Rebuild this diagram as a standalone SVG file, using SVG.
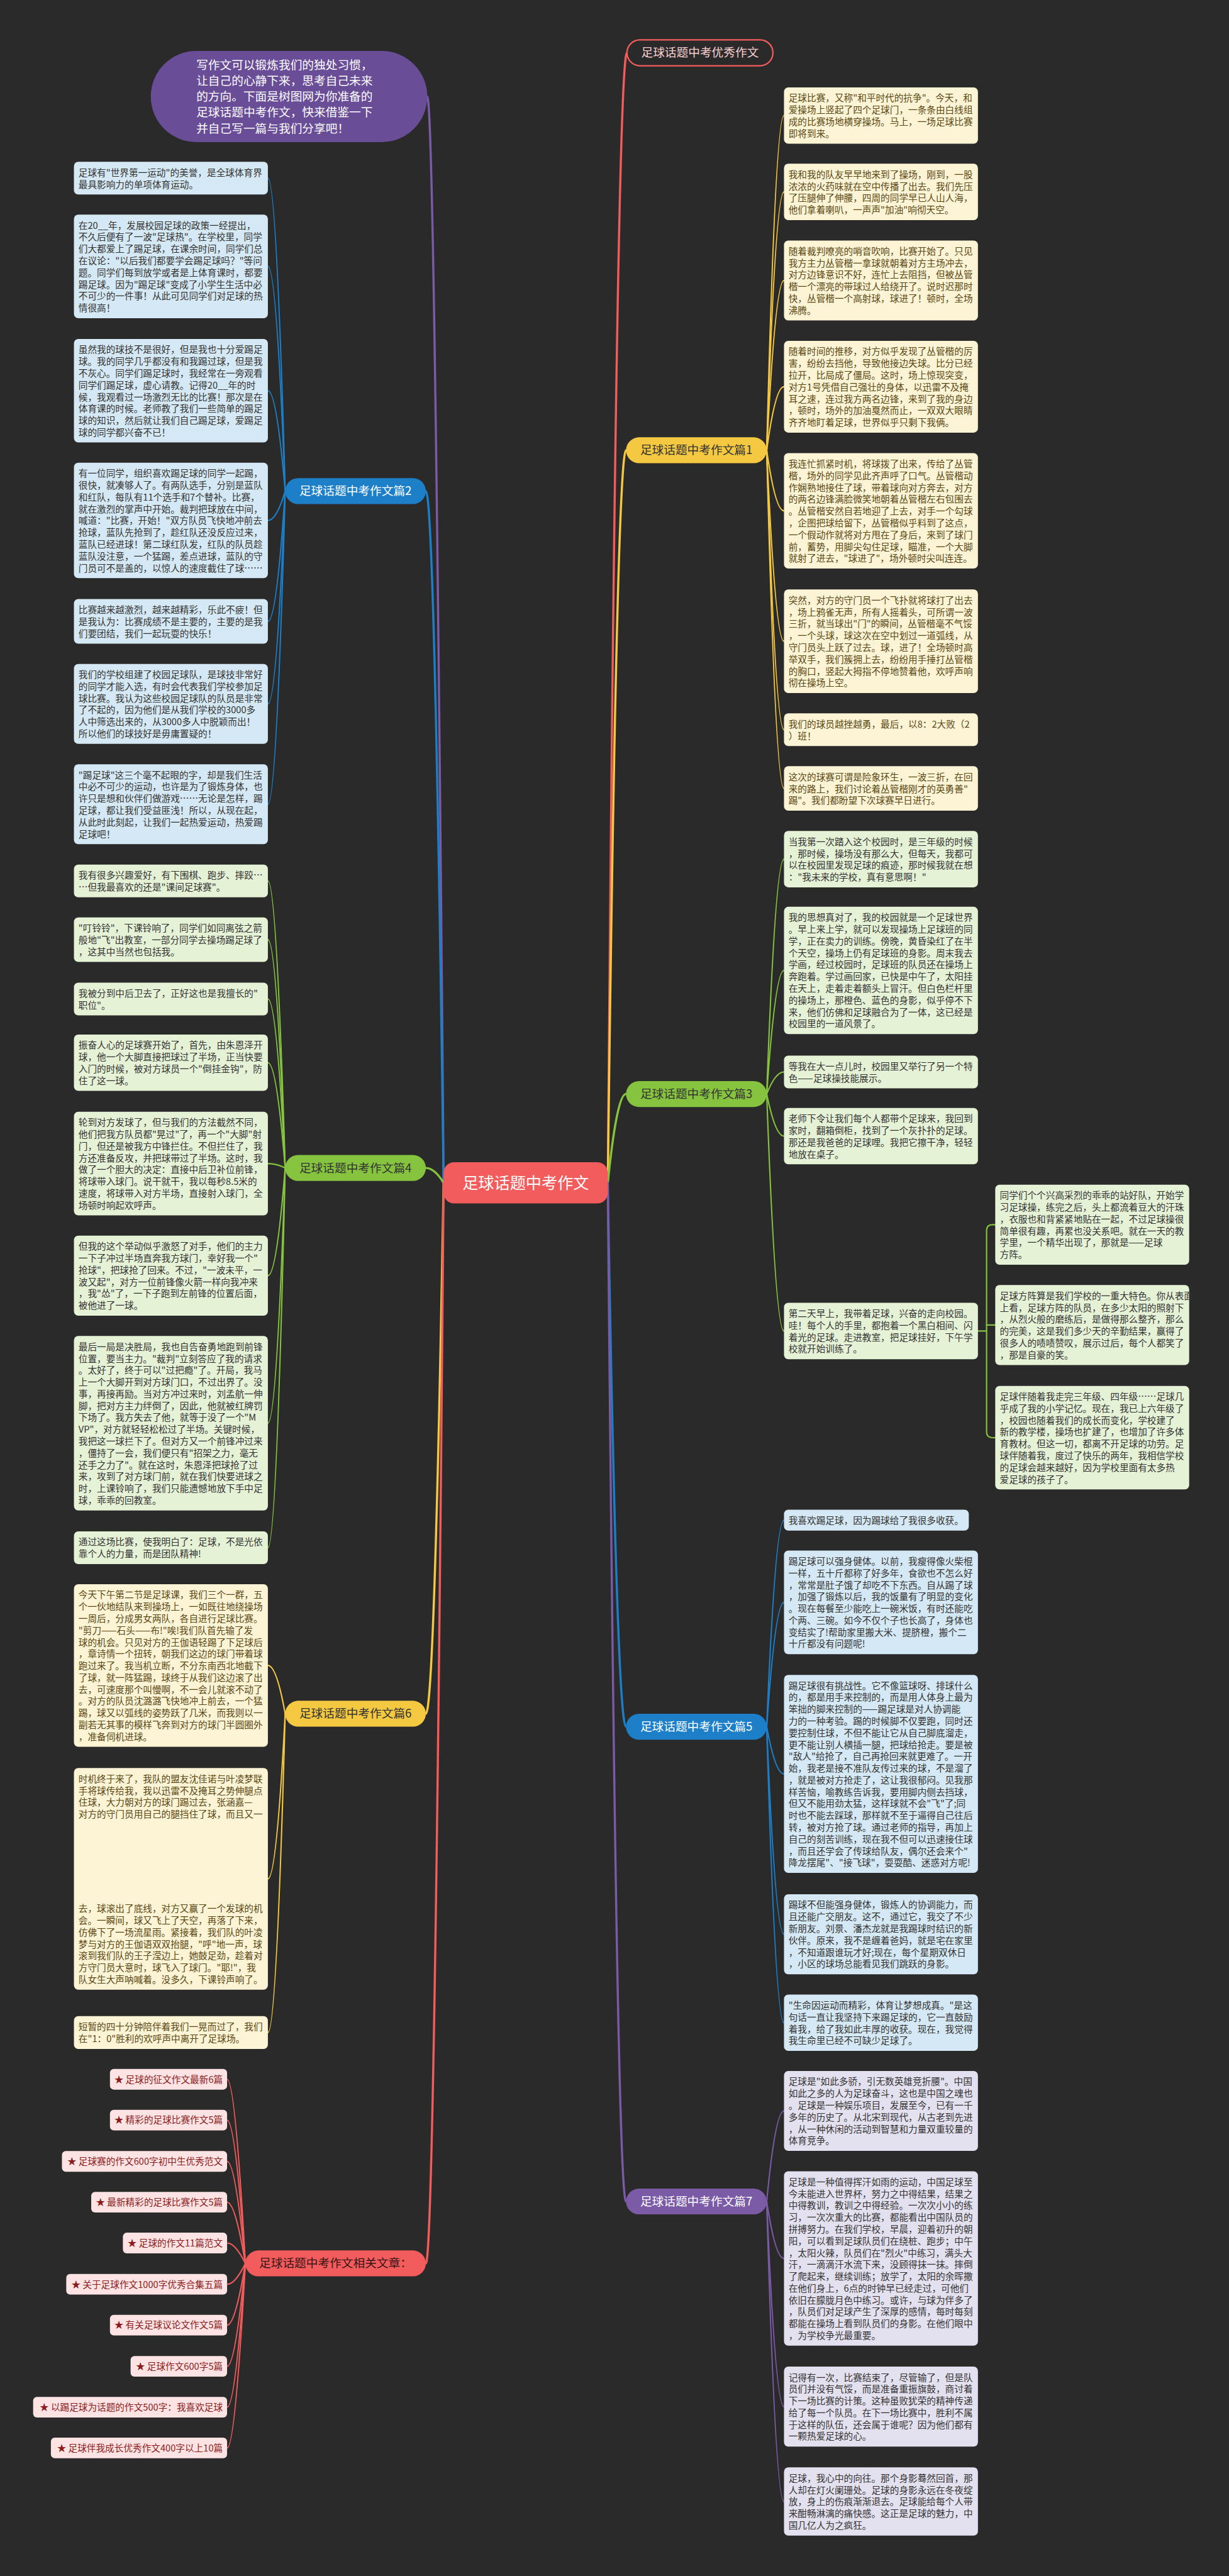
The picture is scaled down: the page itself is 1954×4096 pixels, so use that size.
<svg xmlns="http://www.w3.org/2000/svg" width="1954" height="4096" viewBox="0 0 1954 4096">
<style>
.t{font-family:"Noto Sans CJK SC","Noto Sans",sans-serif;font-size:19.2px}
.tl{font-family:"Noto Sans CJK SC","Noto Sans",sans-serif;font-size:24.5px;text-anchor:middle}
.tb{fill:#333}
.ty{fill:#5a4712}
.bb{fill:#d5e8f5}
.bg{fill:#e6f2d6}
.by{fill:#fdf4d6}
.bp{fill:#e3e0ef}
.lk{fill:#fde3e3}
.lt{fill:#8b1c1c;text-anchor:end}
.c{fill:none;stroke-width:2.8;stroke-linecap:round}
.cm{fill:none;stroke-width:4.5;stroke-linecap:round}
.sb{stroke:#1d7fc8}.sg{stroke:#86c440}.sy{stroke:#f5c842}.sp{stroke:#7b5aa6}.sr{stroke:#f25c5c}
</style>
<rect width="1954" height="4096" fill="#2a2a2a"/>
<g transform="scale(0.7633)">
<g id="connectors">
<path class="cm sp" d="M924 2464 Q905 201 890 201"/>
<path class="cm sr" d="M1266 2464 Q1285 110 1306 110"/>
<path class="cm sy" d="M1266 2464 Q1285 938 1304 938"/>
<path class="cm sb" d="M924 2464 Q905 1023 887 1023"/>
<path class="cm sg" d="M1266 2464 Q1285 2279 1304 2279"/>
<path class="cm sg" d="M924 2464 Q905 2433 887 2433"/>
<path class="cm sb" d="M1266 2464 Q1285 3597 1304 3597"/>
<path class="cm sy" d="M924 2464 Q905 3570 887 3570"/>
<path class="cm sp" d="M1266 2464 Q1285 4586 1304 4586"/>
<path class="cm sr" d="M924 2464 Q905 4715 887 4715"/>
<g class="c sy">
<path d="M1597 938 Q1615 240.7 1633 240.7"/><path d="M1597 938 Q1615 399.7 1633 399.7"/><path d="M1597 938 Q1615 584.3 1633 584.3"/><path d="M1597 938 Q1615 805.6 1633 805.6"/><path d="M1597 938 Q1615 1064.2 1633 1064.2"/><path d="M1597 938 Q1615 1335.9 1633 1335.9"/><path d="M1597 938 Q1615 1520.1 1633 1520.1"/><path d="M1597 938 Q1615 1642.4 1633 1642.4"/>
</g>
<g class="c sg">
<path d="M1597 2279 Q1615 1789.7 1633 1789.7"/><path d="M1597 2279 Q1615 2021.5 1633 2021.5"/><path d="M1597 2279 Q1615 2233.1 1633 2233.1"/><path d="M1597 2279 Q1615 2366.7 1633 2366.7"/><path d="M1597 2279 Q1615 2772.7 1633 2772.7"/>
<path d="M2037 2772.7 H2055"/>
<path d="M2073 2551.3 H2067 Q2055 2551.3 2055 2563.3 V2982.9 Q2055 2994.9 2067 2994.9 H2073"/>
<path d="M2055 2760.3 H2073"/>
</g>
<g class="c sb">
<path d="M1597 3597 Q1615 3166.8 1633 3166.8"/><path d="M1597 3597 Q1615 3337.9 1633 3337.9"/><path d="M1597 3597 Q1615 3695.3 1633 3695.3"/><path d="M1597 3597 Q1615 4029.3 1633 4029.3"/><path d="M1597 3597 Q1615 4213.7 1633 4213.7"/>
</g>
<g class="c sp">
<path d="M1597 4586 Q1615 4397.3 1633 4397.3"/><path d="M1597 4586 Q1615 4704.7 1633 4704.7"/><path d="M1597 4586 Q1615 5013.3 1633 5013.3"/><path d="M1597 4586 Q1615 5211 1633 5211"/>
</g>
<g class="c sb">
<path d="M594 1023 Q576 371.1 558 371.1"/><path d="M594 1023 Q576 554.9 558 554.9"/><path d="M594 1023 Q576 813.9 558 813.9"/><path d="M594 1023 Q576 1084.2 558 1084.2"/><path d="M594 1023 Q576 1294.4 558 1294.4"/><path d="M594 1023 Q576 1466.3 558 1466.3"/><path d="M594 1023 Q576 1675.3 558 1675.3"/>
</g>
<g class="c sg">
<path d="M594 2433 Q576 1835.1 558 1835.1"/><path d="M594 2433 Q576 1957.4 558 1957.4"/><path d="M594 2433 Q576 2081.1 558 2081.1"/><path d="M594 2433 Q576 2213.7 558 2213.7"/><path d="M594 2433 Q576 2423.9 558 2423.9"/><path d="M594 2433 Q576 2657.3 558 2657.3"/><path d="M594 2433 Q576 2964.7 558 2964.7"/><path d="M594 2433 Q576 3224.1 558 3224.1"/>
</g>
<g class="c sy">
<path d="M594 3570 Q576 3469.4 558 3469.4"/><path d="M594 3570 Q576 3913.9 558 3913.9"/><path d="M594 3570 Q576 4234.1 558 4234.1"/>
</g>
<g class="c sr">
<path d="M511 4715 Q490 4331.5 473 4331.5"/><path d="M511 4715 Q490 4416.5 473 4416.5"/><path d="M511 4715 Q490 4502.5 473 4502.5"/><path d="M511 4715 Q490 4587.5 473 4587.5"/><path d="M511 4715 Q490 4672.5 473 4672.5"/><path d="M511 4715 Q490 4758.5 473 4758.5"/><path d="M511 4715 Q490 4843.5 473 4843.5"/><path d="M511 4715 Q490 4929.5 473 4929.5"/><path d="M511 4715 Q490 5014.5 473 5014.5"/><path d="M511 4715 Q490 5099.5 473 5099.5"/>
</g>
</g>

<g id="center"><rect x="924" y="2421" width="342" height="86" rx="22" fill="#f25c5c"/><text x="1095" y="2475.5" style="font-family:'Noto Sans CJK SC','Noto Sans',sans-serif;font-size:33px;text-anchor:middle" fill="#fff">足球话题中考作文</text></g>

<g id="intro"><rect x="314" y="106" width="576" height="190" rx="95" fill="#6a4d97"/>
<text class="t" style="font-size:24.5px" fill="#fff" x="409" y="144">写作文可以锻炼我们的独处习惯，<tspan x="409" dy="33">让自己的心静下来，思考自己未来</tspan><tspan x="409" dy="33">的方向。下面是树图网为你准备的</tspan><tspan x="409" dy="33">足球话题中考作文，快来借鉴一下</tspan><tspan x="409" dy="33">并自己写一篇与我们分享吧！</tspan></text></g>

<g id="label-youxiu"><rect x="1306" y="83" width="304" height="54" rx="27" fill="#2a2a2a" stroke="#f25c5c" stroke-width="3"/><text class="tl" x="1458" y="118.5" fill="#fbd0d0">足球话题中考优秀作文</text></g>
<g id="label-p1"><rect x="1304" y="911" width="293" height="54" rx="27" fill="#f5c842"/><text class="tl" x="1450.5" y="946.5" fill="#333">足球话题中考作文篇1</text></g>
<g id="label-p3"><rect x="1304" y="2252" width="293" height="54" rx="27" fill="#86c440"/><text class="tl" x="1450.5" y="2287.5" fill="#333">足球话题中考作文篇3</text></g>
<g id="label-p5"><rect x="1304" y="3570" width="293" height="54" rx="27" fill="#1d7fc8"/><text class="tl" x="1450.5" y="3605.5" fill="#fff">足球话题中考作文篇5</text></g>
<g id="label-p7"><rect x="1304" y="4559" width="293" height="54" rx="27" fill="#7b5aa6"/><text class="tl" x="1450.5" y="4594.5" fill="#fff">足球话题中考作文篇7</text></g>
<g id="label-p2"><rect x="594" y="996" width="293" height="54" rx="27" fill="#1d7fc8"/><text class="tl" x="740.5" y="1031.5" fill="#fff">足球话题中考作文篇2</text></g>
<g id="label-p4"><rect x="594" y="2406" width="293" height="54" rx="27" fill="#86c440"/><text class="tl" x="740.5" y="2441.5" fill="#333">足球话题中考作文篇4</text></g>
<g id="label-p6"><rect x="594" y="3543" width="293" height="54" rx="27" fill="#f5c842"/><text class="tl" x="740.5" y="3578.5" fill="#333">足球话题中考作文篇6</text></g>
<g id="label-rel"><rect x="511" y="4688" width="376" height="54" rx="27" fill="#f25c5c"/><text class="tl" x="699" y="4723.5" fill="#3a1414">足球话题中考作文相关文章：</text></g>

<g id="y1"><rect x="1633" y="182" width="404" height="117.4" rx="9" class="by"/><text class="t ty" x="1642.5" y="211.5">足球比赛，又称"和平时代的抗争"。今天，和<tspan x="1642.5" dy="24.6">爱操场上竖起了四个足球门，一条条由白线组</tspan><tspan x="1642.5" dy="24.6">成的比赛场地横穿操场。马上，一场足球比赛</tspan><tspan x="1642.5" dy="24.6">即将到来。</tspan></text></g>
<g id="y2"><rect x="1633" y="341" width="404" height="117.4" rx="9" class="by"/><text class="t ty" x="1642.5" y="370.5">我和我的队友早早地来到了操场，刚到，一股<tspan x="1642.5" dy="24.6">浓浓的火药味就在空中传播了出去。我们先压</tspan><tspan x="1642.5" dy="24.6">了压腿伸了伸腰，四周的同学早已人山人海，</tspan><tspan x="1642.5" dy="24.6">他们拿着喇叭，一声声"加油"响彻天空。</tspan></text></g>
<g id="y3"><rect x="1633" y="501" width="404" height="166.6" rx="9" class="by"/><text class="t ty" x="1642.5" y="530.5">随着裁判嘹亮的哨音吹响，比赛开始了。只见<tspan x="1642.5" dy="24.6">我方主力丛管楷一拿球就朝着对方主场冲去，</tspan><tspan x="1642.5" dy="24.6">对方边锋意识不好，连忙上去阻挡，但被丛管</tspan><tspan x="1642.5" dy="24.6">楷一个漂亮的带球过人给绕开了。说时迟那时</tspan><tspan x="1642.5" dy="24.6">快，丛管楷一个高射球，球进了！顿时，全场</tspan><tspan x="1642.5" dy="24.6">沸腾。</tspan></text></g>
<g id="y4"><rect x="1633" y="710" width="404" height="191.2" rx="9" class="by"/><text class="t ty" x="1642.5" y="739.5">随着时间的推移，对方似乎发现了丛管楷的厉<tspan x="1642.5" dy="24.6">害，纷纷去挡他，导致他接边失球。比分已经</tspan><tspan x="1642.5" dy="24.6">拉开，比局成了僵局。这时，场上惊现突变，</tspan><tspan x="1642.5" dy="24.6">对方1号凭借自己强壮的身体，以迅雷不及掩</tspan><tspan x="1642.5" dy="24.6">耳之速，连过我方两名边锋，来到了我的身边</tspan><tspan x="1642.5" dy="24.6">，顿时，场外的加油戛然而止，一双双大眼睛</tspan><tspan x="1642.5" dy="24.6">齐齐地盯着足球，世界似乎只剩下我俩。</tspan></text></g>
<g id="y5"><rect x="1633" y="944" width="404" height="240.4" rx="9" class="by"/><text class="t ty" x="1642.5" y="973.5">我连忙抓紧时机，将球拨了出来，传给了丛管<tspan x="1642.5" dy="24.6">楷，场外的同学见此齐声呼了口气。丛管楷动</tspan><tspan x="1642.5" dy="24.6">作娴熟地接住了球，带着球向对方奔去，对方</tspan><tspan x="1642.5" dy="24.6">的两名边锋满脸微笑地朝着丛管楷左右包围去</tspan><tspan x="1642.5" dy="24.6">。丛管楷安然自若地迎了上去，对手一个勾球</tspan><tspan x="1642.5" dy="24.6">，企图把球给留下，丛管楷似乎料到了这点，</tspan><tspan x="1642.5" dy="24.6">一个假动作就将对方甩在了身后，来到了球门</tspan><tspan x="1642.5" dy="24.6">前，蓄势，用脚尖勾住足球，瞄准，一个大脚</tspan><tspan x="1642.5" dy="24.6">就射了进去，"球进了"，场外顿时尖叫连连。</tspan></text></g>
<g id="y6"><rect x="1633" y="1228" width="404" height="215.8" rx="9" class="by"/><text class="t ty" x="1642.5" y="1257.5">突然，对方的守门员一个飞扑就将球打了出去<tspan x="1642.5" dy="24.6">，场上鸦雀无声，所有人摇着头，可所谓一波</tspan><tspan x="1642.5" dy="24.6">三折，就当球出"门"的瞬间，丛管楷毫不气馁</tspan><tspan x="1642.5" dy="24.6">，一个头球，球这次在空中划过一道弧线，从</tspan><tspan x="1642.5" dy="24.6">守门员头上跃了过去。球，进了！全场顿时高</tspan><tspan x="1642.5" dy="24.6">举双手，我们簇拥上去，纷纷用手捶打丛管楷</tspan><tspan x="1642.5" dy="24.6">的胸口，竖起大拇指不停地赞着他，欢呼声响</tspan><tspan x="1642.5" dy="24.6">彻在操场上空。</tspan></text></g>
<g id="y7"><rect x="1633" y="1486" width="404" height="68.2" rx="9" class="by"/><text class="t ty" x="1642.5" y="1515.5">我们的球员越挫越勇，最后，以8：2大败（2<tspan x="1642.5" dy="24.6">）班！</tspan></text></g>
<g id="y8"><rect x="1633" y="1596" width="404" height="92.8" rx="9" class="by"/><text class="t ty" x="1642.5" y="1625.5">这次的球赛可谓是险象环生，一波三折，在回<tspan x="1642.5" dy="24.6">来的路上，我们讨论着丛管楷刚才的英勇善"</tspan><tspan x="1642.5" dy="24.6">踢"。我们都盼望下次球赛早日进行。</tspan></text></g>

<g id="g1"><rect x="1633" y="1731" width="404" height="117.4" rx="9" class="bg"/><text class="t tb" x="1642.5" y="1760.5">当我第一次踏入这个校园时，是三年级的时候<tspan x="1642.5" dy="24.6">，那时候，操场没有那么大，但每天，我都可</tspan><tspan x="1642.5" dy="24.6">以在校园里发现足球的痕迹，那时候我就在想</tspan><tspan x="1642.5" dy="24.6">："我未来的学校，真有意思啊！"</tspan></text></g>
<g id="g2"><rect x="1633" y="1889" width="404" height="265" rx="9" class="bg"/><text class="t tb" x="1642.5" y="1918.5">我的思想真对了，我的校园就是一个足球世界<tspan x="1642.5" dy="24.6">。早上来上学，就可以发现操场上足球班的同</tspan><tspan x="1642.5" dy="24.6">学，正在卖力的训练。傍晚，黄昏染红了在半</tspan><tspan x="1642.5" dy="24.6">个天空，操场上仍有足球班的身影。周末我去</tspan><tspan x="1642.5" dy="24.6">学画，经过校园时，足球班的队员还在操场上</tspan><tspan x="1642.5" dy="24.6">奔跑着。学过画回家，已快是中午了，太阳挂</tspan><tspan x="1642.5" dy="24.6">在天上，走着走着额头上冒汗。但白色栏杆里</tspan><tspan x="1642.5" dy="24.6">的操场上，那橙色、蓝色的身影，似乎停不下</tspan><tspan x="1642.5" dy="24.6">来，他们仿佛和足球融合为了一体，这已经是</tspan><tspan x="1642.5" dy="24.6">校园里的一道风景了。</tspan></text></g>
<g id="g3"><rect x="1633" y="2199" width="404" height="68.2" rx="9" class="bg"/><text class="t tb" x="1642.5" y="2228.5">等我在大一点儿时，校园里又举行了另一个特<tspan x="1642.5" dy="24.6">色——足球操技能展示。</tspan></text></g>
<g id="g4"><rect x="1633" y="2308" width="404" height="117.4" rx="9" class="bg"/><text class="t tb" x="1642.5" y="2337.5">老师下令让我们每个人都带个足球来，我回到<tspan x="1642.5" dy="24.6">家时，翻箱倒柜，找到了一个灰扑扑的足球。</tspan><tspan x="1642.5" dy="24.6">那还是我爸爸的足球哩。我把它擦干净，轻轻</tspan><tspan x="1642.5" dy="24.6">地放在桌子。</tspan></text></g>
<g id="g5"><rect x="1633" y="2714" width="404" height="117.4" rx="9" class="bg"/><text class="t tb" x="1642.5" y="2743.5">第二天早上，我带着足球，兴奋的走向校园。<tspan x="1642.5" dy="24.6">哇！每个人的手里，都抱着一个黑白相间、闪</tspan><tspan x="1642.5" dy="24.6">着光的足球。走进教室，把足球挂好，下午学</tspan><tspan x="1642.5" dy="24.6">校就开始训练了。</tspan></text></g>
<g id="n1"><rect x="2073" y="2468" width="404" height="166.6" rx="9" class="bg"/><text class="t tb" x="2082.5" y="2497.5">同学们个个兴高采烈的乖乖的站好队，开始学<tspan x="2082.5" dy="24.6">习足球操，练完之后，头上都流着豆大的汗珠</tspan><tspan x="2082.5" dy="24.6">，衣服也和背紧紧地贴在一起，不过足球操很</tspan><tspan x="2082.5" dy="24.6">简单很有趣，再累也没关系吧。就在一天的教</tspan><tspan x="2082.5" dy="24.6">学里，一个精华出现了，那就是——足球</tspan><tspan x="2082.5" dy="24.6">方阵。</tspan></text></g>
<g id="n2"><rect x="2073" y="2677" width="404" height="166.6" rx="9" class="bg"/><text class="t tb" x="2082.5" y="2706.5">足球方阵算是我们学校的一重大特色。你从表面<tspan x="2082.5" dy="24.6">上看，足球方阵的队员，在多少太阳的照射下</tspan><tspan x="2082.5" dy="24.6">，从烈火般的磨练后，是做得那么整齐，那么</tspan><tspan x="2082.5" dy="24.6">的完美，这是我们多少天的辛勤结果，赢得了</tspan><tspan x="2082.5" dy="24.6">很多人的啧啧赞叹，展示过后，每个人都笑了</tspan><tspan x="2082.5" dy="24.6">，那是自豪的笑。</tspan></text></g>
<g id="n3"><rect x="2073" y="2887" width="404" height="215.8" rx="9" class="bg"/><text class="t tb" x="2082.5" y="2916.5">足球伴随着我走完三年级、四年级……足球几<tspan x="2082.5" dy="24.6">乎成了我的小学记忆。现在，我已上六年级了</tspan><tspan x="2082.5" dy="24.6">，校园也随着我们的成长而变化，学校建了</tspan><tspan x="2082.5" dy="24.6">新的教学楼，操场也扩建了，也增加了许多体</tspan><tspan x="2082.5" dy="24.6">育教材。但这一切，都离不开足球的功劳。足</tspan><tspan x="2082.5" dy="24.6">球伴随着我，度过了快乐的两年，我相信学校</tspan><tspan x="2082.5" dy="24.6">的足球会越来越好，因为学校里面有太多热</tspan><tspan x="2082.5" dy="24.6">爱足球的孩子了。</tspan></text></g>

<g id="b1"><rect x="1633" y="3145" width="385" height="43.6" rx="9" class="bb"/><text class="t tb" x="1642.5" y="3174.5">我喜欢踢足球，因为踢球给了我很多收获。</text></g>
<g id="b2"><rect x="1633" y="3230" width="404" height="215.8" rx="9" class="bb"/><text class="t tb" x="1642.5" y="3259.5">踢足球可以强身健体。以前，我瘦得像火柴棍<tspan x="1642.5" dy="24.6">一样，五十斤都称了好多年，食欲也不怎么好</tspan><tspan x="1642.5" dy="24.6">，常常是肚子饿了却吃不下东西。自从踢了球</tspan><tspan x="1642.5" dy="24.6">，加强了锻炼以后，我的饭量有了明显的变化</tspan><tspan x="1642.5" dy="24.6">。现在每餐至少能吃上一碗米饭，有时还能吃</tspan><tspan x="1642.5" dy="24.6">个两、三碗。如今不仅个子也长高了，身体也</tspan><tspan x="1642.5" dy="24.6">变结实了!帮助家里搬大米、提脐橙，搬个二</tspan><tspan x="1642.5" dy="24.6">十斤都没有问题呢!</tspan></text></g>
<g id="b3"><rect x="1633" y="3489" width="404" height="412.6" rx="9" class="bb"/><text class="t tb" x="1642.5" y="3518.5">踢足球很有挑战性。它不像篮球呀、排球什么<tspan x="1642.5" dy="24.6">的，都是用手来控制的，而是用人体身上最为</tspan><tspan x="1642.5" dy="24.6">笨拙的脚来控制的——踢足球是对人协调能</tspan><tspan x="1642.5" dy="24.6">力的一种考验。踢的时候脚不仅要跑，同时还</tspan><tspan x="1642.5" dy="24.6">要控制住球，不但不能让它从自己脚底溜走，</tspan><tspan x="1642.5" dy="24.6">更不能让别人横插一腿，把球给抢走。要是被</tspan><tspan x="1642.5" dy="24.6">"敌人"给抢了，自己再抢回来就更难了。一开</tspan><tspan x="1642.5" dy="24.6">始，我老是接不准队友传过来的球，不是溜了</tspan><tspan x="1642.5" dy="24.6">，就是被对方抢走了，这让我很郁闷。见我那</tspan><tspan x="1642.5" dy="24.6">样苦恼，喻教练告诉我，要用脚内侧去挡球，</tspan><tspan x="1642.5" dy="24.6">但又不能用劲太猛，这样球就不会"飞"了;同</tspan><tspan x="1642.5" dy="24.6">时也不能去踩球，那样就不至于逼得自己往后</tspan><tspan x="1642.5" dy="24.6">转，被对方抢了球。通过老师的指导，再加上</tspan><tspan x="1642.5" dy="24.6">自己的刻苦训练，现在我不但可以迅速接住球</tspan><tspan x="1642.5" dy="24.6">，而且还学会了传球给队友，偶尔还会来个"</tspan><tspan x="1642.5" dy="24.6">降龙摆尾"、"接飞球"，耍耍酷、迷惑对方呢!</tspan></text></g>
<g id="b4"><rect x="1633" y="3946" width="404" height="166.6" rx="9" class="bb"/><text class="t tb" x="1642.5" y="3975.5">踢球不但能强身健体，锻炼人的协调能力，而<tspan x="1642.5" dy="24.6">且还能广交朋友。这不，通过它，我交了不少</tspan><tspan x="1642.5" dy="24.6">新朋友。刘景、潘杰龙就是我踢球时结识的新</tspan><tspan x="1642.5" dy="24.6">伙伴。原来，我不是缠着爸妈，就是宅在家里</tspan><tspan x="1642.5" dy="24.6">，不知道跟谁玩才好;现在，每个星期双休日</tspan><tspan x="1642.5" dy="24.6">，小区的球场总能看见我们跳跃的身影。</tspan></text></g>
<g id="b5"><rect x="1633" y="4155" width="404" height="117.4" rx="9" class="bb"/><text class="t tb" x="1642.5" y="4184.5">"生命因运动而精彩，体育让梦想成真。"是这<tspan x="1642.5" dy="24.6">句话一直让我坚持下来踢足球的，它一直鼓励</tspan><tspan x="1642.5" dy="24.6">着我，给了我如此丰厚的收获。现在，我觉得</tspan><tspan x="1642.5" dy="24.6">我生命里已经不可缺少足球了。</tspan></text></g>

<g id="p1"><rect x="1633" y="4314" width="404" height="166.6" rx="9" class="bp"/><text class="t tb" x="1642.5" y="4343.5">足球是"如此多骄，引无数英雄竞折腰"。中国<tspan x="1642.5" dy="24.6">如此之多的人为足球奋斗，这也是中国之魂也</tspan><tspan x="1642.5" dy="24.6">。足球是一种娱乐项目，发展至今，已有一千</tspan><tspan x="1642.5" dy="24.6">多年的历史了。从北宋到现代，从古老到先进</tspan><tspan x="1642.5" dy="24.6">，从一种休闲的活动到智慧和力量双重较量的</tspan><tspan x="1642.5" dy="24.6">体育竞争。</tspan></text></g>
<g id="p2"><rect x="1633" y="4523" width="404" height="363.4" rx="9" class="bp"/><text class="t tb" x="1642.5" y="4552.5">足球是一种值得挥汗如雨的运动，中国足球至<tspan x="1642.5" dy="24.6">今未能进入世界杯，努力之中得结果，结果之</tspan><tspan x="1642.5" dy="24.6">中得教训，教训之中得经验。一次次小小的练</tspan><tspan x="1642.5" dy="24.6">习，一次次重大的比赛，都能看出中国队员的</tspan><tspan x="1642.5" dy="24.6">拼搏努力。在我们学校，早晨，迎着初升的朝</tspan><tspan x="1642.5" dy="24.6">阳，可以看到足球队员们在绕桩、跑步；中午</tspan><tspan x="1642.5" dy="24.6">，太阳火辣，队员们在"烈火"中练习，满头大</tspan><tspan x="1642.5" dy="24.6">汗，一滴滴汗水流下来，没顾得抹一抹。摔倒</tspan><tspan x="1642.5" dy="24.6">了爬起来，继续训练；放学了，太阳的余晖撒</tspan><tspan x="1642.5" dy="24.6">在他们身上，6点的时钟早已经走过，可他们</tspan><tspan x="1642.5" dy="24.6">依旧在朦胧月色中练习。或许，与球为伴多了</tspan><tspan x="1642.5" dy="24.6">，队员们对足球产生了深厚的感情，每时每刻</tspan><tspan x="1642.5" dy="24.6">都能在操场上看到队员们的身影。在他们眼中</tspan><tspan x="1642.5" dy="24.6">，为学校争光最重要。</tspan></text></g>
<g id="p3"><rect x="1633" y="4930" width="404" height="166.6" rx="9" class="bp"/><text class="t tb" x="1642.5" y="4959.5">记得有一次，比赛结束了，尽管输了，但是队<tspan x="1642.5" dy="24.6">员们并没有气馁，而是准备重振旗鼓，商讨着</tspan><tspan x="1642.5" dy="24.6">下一场比赛的计策。这种虽败犹荣的精神传递</tspan><tspan x="1642.5" dy="24.6">给了每一个队员。在下一场比赛中，胜利不属</tspan><tspan x="1642.5" dy="24.6">于这样的队伍，还会属于谁呢？因为他们都有</tspan><tspan x="1642.5" dy="24.6">一颗热爱足球的心。</tspan></text></g>
<g id="p4"><rect x="1633" y="5140" width="404" height="142" rx="9" class="bp"/><text class="t tb" x="1642.5" y="5169.5">足球，我心中的向往。那个身影蓦然回首，那<tspan x="1642.5" dy="24.6">人却在灯火阑珊处。足球的身影永远在冬夜绽</tspan><tspan x="1642.5" dy="24.6">放，身上的伤痕渐渐退去。足球能给每个人带</tspan><tspan x="1642.5" dy="24.6">来酣畅淋漓的痛快感。这正是足球的魅力，中</tspan><tspan x="1642.5" dy="24.6">国几亿人为之疯狂。</tspan></text></g>

<g id="lb1"><rect x="154" y="337" width="404" height="68.2" rx="9" class="bb"/><text class="t tb" x="163.5" y="366.5">足球有"世界第一运动"的美誉，是全球体育界<tspan x="163.5" dy="24.6">最具影响力的单项体育运动。</tspan></text></g>
<g id="lb2"><rect x="154" y="447" width="404" height="215.8" rx="9" class="bb"/><text class="t tb" x="163.5" y="476.5">在20__年，发展校园足球的政策一经提出，<tspan x="163.5" dy="24.6">不久后便有了一波"足球热"。在学校里，同学</tspan><tspan x="163.5" dy="24.6">们大都爱上了踢足球，在课余时间，同学们总</tspan><tspan x="163.5" dy="24.6">在议论："以后我们都要学会踢足球吗？"等问</tspan><tspan x="163.5" dy="24.6">题。同学们每到放学或者是上体育课时，都要</tspan><tspan x="163.5" dy="24.6">踢足球。因为"踢足球"变成了小学生生活中必</tspan><tspan x="163.5" dy="24.6">不可少的一件事！从此可见同学们对足球的热</tspan><tspan x="163.5" dy="24.6">情很高！</tspan></text></g>
<g id="lb3"><rect x="154" y="706" width="404" height="215.8" rx="9" class="bb"/><text class="t tb" x="163.5" y="735.5">虽然我的球技不是很好，但是我也十分爱踢足<tspan x="163.5" dy="24.6">球。我的同学几乎都没有和我踢过球，但是我</tspan><tspan x="163.5" dy="24.6">不灰心。同学们踢足球时，我经常在一旁观看</tspan><tspan x="163.5" dy="24.6">同学们踢足球，虚心请教。记得20__年的时</tspan><tspan x="163.5" dy="24.6">候，我观看过一场激烈无比的比赛！那次是在</tspan><tspan x="163.5" dy="24.6">体育课的时候。老师教了我们一些简单的踢足</tspan><tspan x="163.5" dy="24.6">球的知识，然后就让我们自己踢足球，爱踢足</tspan><tspan x="163.5" dy="24.6">球的同学都兴奋不已！</tspan></text></g>
<g id="lb4"><rect x="154" y="964" width="404" height="240.4" rx="9" class="bb"/><text class="t tb" x="163.5" y="993.5">有一位同学，组织喜欢踢足球的同学一起踢，<tspan x="163.5" dy="24.6">很快，就凑够人了。有两队选手，分别是蓝队</tspan><tspan x="163.5" dy="24.6">和红队，每队有11个选手和7个替补。比赛，</tspan><tspan x="163.5" dy="24.6">就在激烈的掌声中开始。裁判把球放在中间，</tspan><tspan x="163.5" dy="24.6">喊道："比赛，开始！"双方队员飞快地冲前去</tspan><tspan x="163.5" dy="24.6">抢球，蓝队先抢到了，趁红队还没反应过来，</tspan><tspan x="163.5" dy="24.6">蓝队已经进球！第二球红队发，红队的队员趁</tspan><tspan x="163.5" dy="24.6">蓝队没注意，一个猛踢，差点进球，蓝队的守</tspan><tspan x="163.5" dy="24.6">门员可不是盖的，以惊人的速度截住了球……</tspan></text></g>
<g id="lb5"><rect x="154" y="1248" width="404" height="92.8" rx="9" class="bb"/><text class="t tb" x="163.5" y="1277.5">比赛越来越激烈，越来越精彩，乐此不疲！但<tspan x="163.5" dy="24.6">是我认为：比赛成绩不是主要的，主要的是我</tspan><tspan x="163.5" dy="24.6">们要团结，我们一起玩耍的快乐！</tspan></text></g>
<g id="lb6"><rect x="154" y="1383" width="404" height="166.6" rx="9" class="bb"/><text class="t tb" x="163.5" y="1412.5">我们的学校组建了校园足球队，是球技非常好<tspan x="163.5" dy="24.6">的同学才能入选，有时会代表我们学校参加足</tspan><tspan x="163.5" dy="24.6">球比赛。我认为这些校园足球队的队员是非常</tspan><tspan x="163.5" dy="24.6">了不起的，因为他们是从我们学校的3000多</tspan><tspan x="163.5" dy="24.6">人中筛选出来的，从3000多人中脱颖而出！</tspan><tspan x="163.5" dy="24.6">所以他们的球技好是毋庸置疑的！</tspan></text></g>
<g id="lb7"><rect x="154" y="1592" width="404" height="166.6" rx="9" class="bb"/><text class="t tb" x="163.5" y="1621.5">"踢足球"这三个毫不起眼的字，却是我们生活<tspan x="163.5" dy="24.6">中必不可少的运动，也许是为了锻炼身体，也</tspan><tspan x="163.5" dy="24.6">许只是想和伙伴们做游戏……无论是怎样，踢</tspan><tspan x="163.5" dy="24.6">足球，都让我们受益匪浅！所以，从现在起，</tspan><tspan x="163.5" dy="24.6">从此时此刻起，让我们一起热爱运动，热爱踢</tspan><tspan x="163.5" dy="24.6">足球吧！</tspan></text></g>

<g id="lg1"><rect x="154" y="1801" width="404" height="68.2" rx="9" class="bg"/><text class="t tb" x="163.5" y="1830.5">我有很多兴趣爱好，有下围棋、跑步、摔跤…<tspan x="163.5" dy="24.6">…但我最喜欢的还是"课间足球赛"。</tspan></text></g>
<g id="lg2"><rect x="154" y="1911" width="404" height="92.8" rx="9" class="bg"/><text class="t tb" x="163.5" y="1940.5">"叮铃铃"，下课铃响了，同学们如同离弦之箭<tspan x="163.5" dy="24.6">般地"飞"出教室，一部分同学去操场踢足球了</tspan><tspan x="163.5" dy="24.6">，这其中当然也包括我。</tspan></text></g>
<g id="lg3"><rect x="154" y="2047" width="404" height="68.2" rx="9" class="bg"/><text class="t tb" x="163.5" y="2076.5">我被分到中后卫去了，正好这也是我擅长的"<tspan x="163.5" dy="24.6">职位"。</tspan></text></g>
<g id="lg4"><rect x="154" y="2155" width="404" height="117.4" rx="9" class="bg"/><text class="t tb" x="163.5" y="2184.5">振奋人心的足球赛开始了，首先，由朱恩泽开<tspan x="163.5" dy="24.6">球，他一个大脚直接把球过了半场，正当快要</tspan><tspan x="163.5" dy="24.6">入门的时候，被对方球员一个"倒挂金钩"，防</tspan><tspan x="163.5" dy="24.6">住了这一球。</tspan></text></g>
<g id="lg5"><rect x="154" y="2316" width="404" height="215.8" rx="9" class="bg"/><text class="t tb" x="163.5" y="2345.5">轮到对方发球了，但与我们的方法截然不同，<tspan x="163.5" dy="24.6">他们把我方队员都"晃过"了，再一个"大脚"射</tspan><tspan x="163.5" dy="24.6">门，但还是被我方中锋拦住。不但拦住了，我</tspan><tspan x="163.5" dy="24.6">方还准备反攻，并把球带过了半场。这时，我</tspan><tspan x="163.5" dy="24.6">做了一个胆大的决定：直接中后卫补位前锋，</tspan><tspan x="163.5" dy="24.6">将球带入球门。说干就干，我以每秒8.5米的</tspan><tspan x="163.5" dy="24.6">速度，将球带入对方半场，直接射入球门，全</tspan><tspan x="163.5" dy="24.6">场顿时响起欢呼声。</tspan></text></g>
<g id="lg6"><rect x="154" y="2574" width="404" height="166.6" rx="9" class="bg"/><text class="t tb" x="163.5" y="2603.5">但我的这个举动似乎激怒了对手，他们的主力<tspan x="163.5" dy="24.6">一下子冲过半场直奔我方球门，幸好我一个"</tspan><tspan x="163.5" dy="24.6">抢球"，把球抢了回来。不过，"一波未平，一</tspan><tspan x="163.5" dy="24.6">波又起"，对方一位前锋像火箭一样向我冲来</tspan><tspan x="163.5" dy="24.6">，我"怂"了，一下子跑到左前锋的位置后面，</tspan><tspan x="163.5" dy="24.6">被他进了一球。</tspan></text></g>
<g id="lg7"><rect x="154" y="2783" width="404" height="363.4" rx="9" class="bg"/><text class="t tb" x="163.5" y="2812.5">最后一局是决胜局，我也自告奋勇地跑到前锋<tspan x="163.5" dy="24.6">位置，要当主力。"裁判"立刻答应了我的请求</tspan><tspan x="163.5" dy="24.6">。太好了，终于可以"过把瘾"了。开局，我马</tspan><tspan x="163.5" dy="24.6">上一个大脚开到对方球门口，不过出界了。没</tspan><tspan x="163.5" dy="24.6">事，再接再励。当对方冲过来时，刘孟航一伸</tspan><tspan x="163.5" dy="24.6">脚，把对方主力绊倒了，因此，他就被红牌罚</tspan><tspan x="163.5" dy="24.6">下场了。我方失去了他，就等于没了一个"M</tspan><tspan x="163.5" dy="24.6">VP"，对方就轻轻松松过了半场。关键时候，</tspan><tspan x="163.5" dy="24.6">我把这一球拦下了。但对方又一个前锋冲过来</tspan><tspan x="163.5" dy="24.6">，僵持了一会，我们便只有"招架之力，毫无</tspan><tspan x="163.5" dy="24.6">还手之力了"。就在这时，朱恩泽把球抢了过</tspan><tspan x="163.5" dy="24.6">来，攻到了对方球门前，就在我们快要进球之</tspan><tspan x="163.5" dy="24.6">时，上课铃响了，我们只能遗憾地放下手中足</tspan><tspan x="163.5" dy="24.6">球，乖乖的回教室。</tspan></text></g>
<g id="lg8"><rect x="154" y="3190" width="404" height="68.2" rx="9" class="bg"/><text class="t tb" x="163.5" y="3219.5">通过这场比赛，使我明白了：足球，不是光依<tspan x="163.5" dy="24.6">靠个人的力量，而是团队精神!</tspan></text></g>

<g id="ly1"><rect x="154" y="3300" width="404" height="338.8" rx="9" class="by"/><text class="t ty" x="163.5" y="3329.5">今天下午第二节是足球课，我们三个一群，五<tspan x="163.5" dy="24.6">个一伙地结队来到操场上，一如既往地绕操场</tspan><tspan x="163.5" dy="24.6">一周后，分成男女两队，各自进行足球比赛。</tspan><tspan x="163.5" dy="24.6">"剪刀——石头——布!"唉!我们队首先输了发</tspan><tspan x="163.5" dy="24.6">球的机会。只见对方的王伽语轻踢了下足球后</tspan><tspan x="163.5" dy="24.6">，章诗情一个扭转，朝我们这边的球门带着球</tspan><tspan x="163.5" dy="24.6">跑过来了。我当机立断，不分东南西北地截下</tspan><tspan x="163.5" dy="24.6">了球，就一阵猛踢，球终于从我们这边滚了出</tspan><tspan x="163.5" dy="24.6">去，可速度那个叫慢啊，不一会儿就滚不动了</tspan><tspan x="163.5" dy="24.6">。对方的队员沈潞潞飞快地冲上前去，一个猛</tspan><tspan x="163.5" dy="24.6">踢，球又以弧线的姿势跃了几米，而我则以一</tspan><tspan x="163.5" dy="24.6">副若无其事的模样飞奔到对方的球门半圆圈外</tspan><tspan x="163.5" dy="24.6">，准备伺机进球。</tspan></text></g>
<g id="ly2"><rect x="154" y="3683" width="404" height="461.8" rx="9" class="by"/><text class="t ty" x="163.5" y="3712.5">时机终于来了，我队的盟友沈佳诺与叶凌梦联<tspan x="163.5" dy="24.6">手将球传给我，我以迅雷不及掩耳之势伸腿点</tspan><tspan x="163.5" dy="24.6">住球，大力朝对方的球门踢过去，张涵嘉—</tspan><tspan x="163.5" dy="24.6">对方的守门员用自己的腿挡住了球，而且又一</tspan><tspan x="163.5" dy="196.8">去，球滚出了底线，对方又赢了一个发球的机</tspan><tspan x="163.5" dy="24.6">会。一瞬间，球又飞上了天空，再落了下来，</tspan><tspan x="163.5" dy="24.6">仿佛下了一场流星雨。紧接着，我们队的叶凌</tspan><tspan x="163.5" dy="24.6">梦与对方的王伽语双双抬腿，"呼"地一声，球</tspan><tspan x="163.5" dy="24.6">滚到我们队的王子滢边上，她鼓足劲，趁着对</tspan><tspan x="163.5" dy="24.6">方守门员大意时，球飞入了球门。"耶!"，我</tspan><tspan x="163.5" dy="24.6">队女生大声呐喊着。没多久，下课铃声响了。</tspan></text></g>
<g id="ly3"><rect x="154" y="4200" width="404" height="68.2" rx="9" class="by"/><text class="t ty" x="163.5" y="4229.5">短暂的四十分钟陪伴着我们一晃而过了，我们<tspan x="163.5" dy="24.6">在"1：0"胜利的欢呼声中离开了足球场。</tspan></text></g>

<g id="r1"><rect x="229" y="4310" width="244" height="43" rx="8" class="lk"/><text class="t lt" x="464" y="4338.5">★ 足球的征文作文最新6篇</text></g>
<g id="r2"><rect x="229" y="4395" width="244" height="43" rx="8" class="lk"/><text class="t lt" x="464" y="4423.5">★ 精彩的足球比赛作文5篇</text></g>
<g id="r3"><rect x="129" y="4481" width="344" height="43" rx="8" class="lk"/><text class="t lt" x="464" y="4509.5">★ 足球赛的作文600字初中生优秀范文</text></g>
<g id="r4"><rect x="190" y="4566" width="283" height="43" rx="8" class="lk"/><text class="t lt" x="464" y="4594.5">★ 最新精彩的足球比赛作文5篇</text></g>
<g id="r5"><rect x="256" y="4651" width="217" height="43" rx="8" class="lk"/><text class="t lt" x="464" y="4679.5">★ 足球的作文11篇范文</text></g>
<g id="r6"><rect x="138" y="4737" width="335" height="43" rx="8" class="lk"/><text class="t lt" x="464" y="4765.5">★ 关于足球作文1000字优秀合集五篇</text></g>
<g id="r7"><rect x="229" y="4822" width="244" height="43" rx="8" class="lk"/><text class="t lt" x="464" y="4850.5">★ 有关足球议论文作文5篇</text></g>
<g id="r8"><rect x="272" y="4908" width="201" height="43" rx="8" class="lk"/><text class="t lt" x="464" y="4936.5">★ 足球作文600字5篇</text></g>
<g id="r9"><rect x="69" y="4993" width="404" height="43" rx="8" class="lk"/><text class="t lt" x="464" y="5021.5">★ 以踢足球为话题的作文500字：我喜欢足球</text></g>
<g id="r10"><rect x="106" y="5078" width="367" height="43" rx="8" class="lk"/><text class="t lt" x="464" y="5106.5">★ 足球伴我成长优秀作文400字以上10篇</text></g>
</g>
</svg>
